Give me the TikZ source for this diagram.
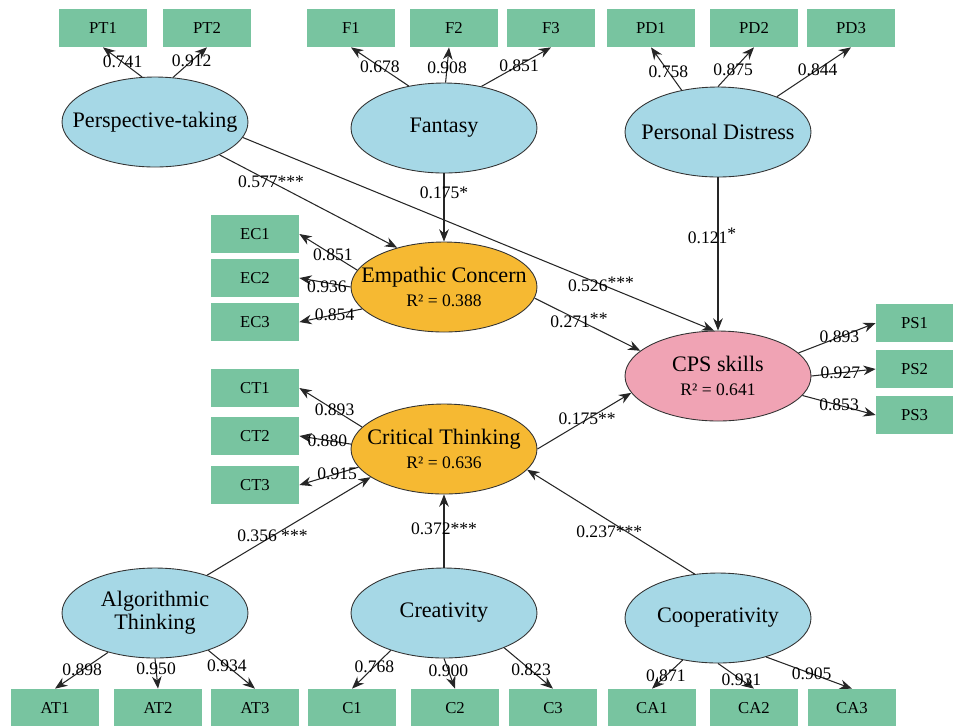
\documentclass[tikz,border=0pt]{standalone}
\usepackage{fontspec}
\setmainfont{Liberation Serif}
\usepackage{tikz}
\usetikzlibrary{shapes.geometric, arrows.meta}
\definecolor{boxgreen}{RGB}{120,196,160}
\definecolor{latblue}{RGB}{166,216,230}
\definecolor{latorange}{RGB}{246,185,50}
\definecolor{latpink}{RGB}{240,163,180}
\tikzstyle{indicator} = [rectangle, minimum width=1.76cm, minimum height=0.76cm, inner sep=0pt, text centered, fill=boxgreen, font=\fontsize{9.5}{11}\selectfont]
\tikzstyle{latent} = [ellipse, minimum width=3.72cm, minimum height=1.8cm, inner xsep=-0.4cm, inner ysep=0pt, align=center, draw=black!80, line width=0.5pt, fill=latblue, font=\fontsize{12.6}{15}\selectfont]
\tikzstyle{arrow} = [line width=0.6pt, draw=black!85, -{Stealth[length=7pt, width=5.5pt]}]
\tikzstyle{coef} = [font=\fontsize{10}{12}\selectfont, inner sep=1pt]
\newcommand{\rsq}[1]{\\[-1pt]{\fontsize{10}{12}\selectfont R² = #1}}
\newcommand{\sig}[1]{\raisebox{0.2em}{#1}}

\begin{document}
\begin{tikzpicture}[x=0.02cm, y=-0.02cm]
    \useasboundingbox (0,0) rectangle (953,725);

    % top indicators
    \node (pt1) [indicator] at (103,28) {PT1};
    \node (pt2) [indicator] at (207,28) {PT2};
    \node (f1) [indicator] at (351,28) {F1};
    \node (f2) [indicator] at (454,28) {F2};
    \node (f3) [indicator] at (551,28) {F3};
    \node (pd1) [indicator] at (651,28) {PD1};
    \node (pd2) [indicator] at (754,28) {PD2};
    \node (pd3) [indicator] at (851,28) {PD3};

    % left indicators
    \node (ec1) [indicator] at (255,234) {EC1};
    \node (ec2) [indicator] at (255,278) {EC2};
    \node (ec3) [indicator] at (255,322) {EC3};
    \node (ct1) [indicator] at (255,388) {CT1};
    \node (ct2) [indicator] at (255,436) {CT2};
    \node (ct3) [indicator] at (255,485) {CT3};

    % right indicators
    \node (ps1) [indicator, minimum width=1.54cm] at (914.5,323) {PS1};
    \node (ps2) [indicator, minimum width=1.54cm] at (914.5,369) {PS2};
    \node (ps3) [indicator, minimum width=1.54cm] at (914.5,415) {PS3};

    % bottom indicators
    \node (at1) [indicator] at (55,708) {AT1};
    \node (at2) [indicator] at (158,708) {AT2};
    \node (at3) [indicator] at (255,708) {AT3};
    \node (c1) [indicator] at (352,708) {C1};
    \node (c2) [indicator] at (455,708) {C2};
    \node (c3) [indicator] at (553,708) {C3};
    \node (ca1) [indicator] at (652,708) {CA1};
    \node (ca2) [indicator] at (754,708) {CA2};
    \node (ca3) [indicator] at (852,708) {CA3};

    % latent variables
    \node (pt) [latent] at (155,122) {Perspective-taking};
    \node (fan) [latent] at (444,128) {Fantasy};
    \node (pd) [latent] at (718,132) {Personal Distress};
    \node (ec) [latent, fill=latorange] at (444,287) {Empathic Concern\rsq{0.388}};
    \node (ct) [latent, fill=latorange] at (444,449) {Critical Thinking\rsq{0.636}};
    \node (cps) [latent, fill=latpink] at (718,376) {CPS skills\rsq{0.641}};
    \node (at) [latent] at (155,613) {Algorithmic\\[-2pt]Thinking};
    \node (cr) [latent] at (444,613) {Creativity};
    \node (coop) [latent] at (718,618) {Cooperativity};

    % loadings
    \draw [arrow] (pt.106) -- node[coef, pos=0.5] {0.741} (pt1.south);
    \draw [arrow] (pt.68) -- node[coef, pos=0.55] {0.912} (pt2.south);
    \draw [arrow] (fan.130) -- node[coef, pos=0.5] {0.678} (f1.south);
    \draw [arrow] (fan.88) -- node[coef, pos=0.42] {0.908} ([xshift=-0.1cm]f2.south);
    \draw [arrow] (fan.48) -- node[coef, pos=0.54] {0.851} (f3.south);
    \draw [arrow] (pd.131) -- node[coef, pos=0.43] {0.758} (pd1.south);
    \draw [arrow] (pd.90) -- node[coef, pos=0.42] {0.875} (pd2.south);
    \draw [arrow] (pd.31) -- node[coef, pos=0.55] {0.844} (pd3.south);

    \draw [arrow] (ec.169) -- node[coef, pos=0.42] {0.851} (ec1.east);
    \draw [arrow] (ec.180) -- node[coef, pos=0.46, yshift=-0.08cm] {0.936} (ec2.east);
    \draw [arrow] (ec.195) -- node[coef, pos=0.44] {0.854} (ec3.east);
    \draw [arrow] (ct.165) -- node[coef, pos=0.44] {0.893} (ct1.east);
    \draw [arrow] (ct.177) -- node[coef, pos=0.46] {0.880} (ct2.east);
    \draw [arrow] (ct.192) -- node[coef, pos=0.36] {0.915} (ct3.east);

    \draw [arrow] (cps.16) -- node[coef, pos=0.53] {0.893} (ps1.west);
    \draw [arrow] (cps.0) -- node[coef, pos=0.45] {0.927} (ps2.west);
    \draw [arrow] (cps.-13) -- node[coef, pos=0.5] {0.853} (ps3.west);

    \draw [arrow] (at.220) -- node[coef, pos=0.49] {0.898} (at1.north);
    \draw [arrow] (at.270) -- node[coef, pos=0.35] {0.950} (at2.north);
    \draw [arrow] (at.-35) -- node[coef, pos=0.4] {0.934} (at3.north);
    \draw [arrow] (cr.215) -- node[coef, pos=0.42] {0.768} (c1.north);
    \draw [arrow] (cr.270) -- node[coef, pos=0.4] {0.900} (c2.north);
    \draw [arrow] (cr.-30) -- node[coef, pos=0.55] {0.823} (c3.north);
    \draw [arrow] (coop.230) -- node[coef, pos=0.55] {0.871} (ca1.north);
    \draw [arrow] (coop.270) -- node[coef, pos=0.65] {0.931} (ca2.north);
    \draw [arrow] (coop.-39) -- node[coef, pos=0.53] {0.905} (ca3.north);

    % paths
    \draw [arrow] (pt.-27) -- node[coef, pos=0.29] {0.577***} (ec.140);
    \draw [arrow] (pt.-10) -- node[coef, pos=0.76] {0.526\sig{***}} (cps.95);
    \draw [arrow] (fan) -- node[coef, pos=0.29] {0.175*} (ec);
    \draw [arrow] (pd) -- node[coef, pos=0.38, xshift=-0.12cm] {0.121\sig{*}} (cps);
    \draw [arrow] (ec.-7) -- node[coef, pos=0.42] {0.271\sig{**}} (cps.162);
    \draw [arrow] (ct.0) -- node[coef, pos=0.53] {0.175**} (cps.191);
    \draw [arrow] (at.36) -- node[coef, pos=0.4] {0.356 ***} (ct.201);
    \draw [arrow] (cr) -- node[coef, pos=0.53] {0.372***} (ct);
    \draw [arrow] (coop.118) -- node[coef, pos=0.45, xshift=-0.2cm, yshift=-0.1cm] {0.237***} (ct.-14);
\end{tikzpicture}
\end{document}
